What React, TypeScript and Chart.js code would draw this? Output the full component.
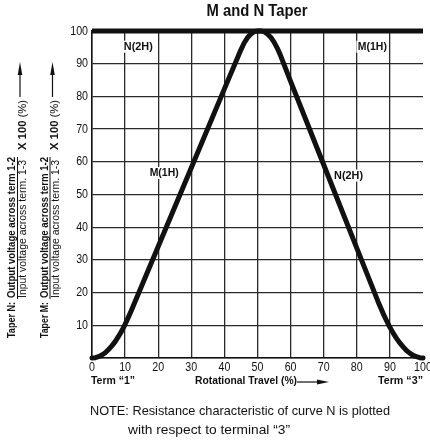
import React, { useEffect, useRef } from "react";
import { Chart, registerables } from "chart.js";

Chart.register(...registerables);

// Rotational travel (%) and output (%) for the M curve (1H rise / 2H fall)
const travelM = [0, 1, 2, 3, 4, 5, 6, 7, 8, 9, 10, 11, 11.7, 20, 30, 40, 44.7, 46, 47, 48, 49, 50, 51, 52, 53, 54, 55, 56, 57, 60, 70, 80, 86.4, 88, 89, 90, 91, 92, 93, 94, 95, 96, 97, 98, 99, 100];
const outputM = [0, 0.1, 0.4, 0.9, 1.6, 2.6, 3.7, 5.0, 6.6, 8.3, 10.3, 12.5, 14.1, 34.1, 58.2, 82.3, 93.6, 96.4, 98.0, 99.1, 99.8, 100, 100, 99.8, 99.1, 98.1, 96.6, 94.7, 92.4, 84.6, 59.1, 33.6, 17.3, 13.5, 11.4, 9.4, 7.6, 6.0, 4.6, 3.4, 2.3, 1.5, 0.8, 0.4, 0.1, 0];
// The flat curve at 100 %
const travelTop = [0, 100];
const outputTop = [100, 100];

const xTicks = [0, 10, 20, 30, 40, 50, 60, 70, 80, 90, 100];
const yTicks = [10, 20, 30, 40, 50, 60, 70, 80, 90, 100];

const curveLabels = ["N(2H)", "M(1H)", "M(1H)", "N(2H)"];
const curveLabelX = [14, 84.7, 21.8, 77.5];
const curveLabelY = [95.2, 95.2, 56.6, 55.8];

const FONT = '"Liberation Sans", Arial, Helvetica, sans-serif';

// draw text compressed horizontally (condensed look)
function txt(ctx: any, text: string, x: number, y: number, font: string, align: "left" | "center" | "right", sx: number, rotate = false) {
  ctx.save();
  ctx.translate(x, y);
  if (rotate) ctx.rotate(-Math.PI / 2);
  ctx.scale(sx, 1);
  ctx.font = font;
  ctx.textAlign = align;
  ctx.textBaseline = "middle";
  ctx.fillText(text, 0, 0);
  ctx.restore();
}
function fitScale(ctx: any, text: string, font: string, target: number) {
  ctx.save();
  ctx.font = font;
  const w = ctx.measureText(text).width;
  ctx.restore();
  return target / w;
}

const annotations = {
  id: "annot",
  beforeDatasetsDraw(chart: any) {
    const ctx = chart.ctx;
    const xs = chart.scales.x;
    const ys = chart.scales.y;
    ctx.save();
    ctx.fillStyle = "#111";
    // tick labels
    const tf = `13px ${FONT}`;
    xTicks.forEach((v) => txt(ctx, String(v), xs.getPixelForValue(v), 367, tf, "center", 0.82));
    yTicks.forEach((v) => txt(ctx, String(v), 88, ys.getPixelForValue(v), tf, "right", 0.82));
    // curve labels
    const lf = `bold 11px ${FONT}`;
    curveLabels.forEach((t, i) => {
      const px = xs.getPixelForValue(curveLabelX[i]);
      const py = ys.getPixelForValue(curveLabelY[i]);
      const s = fitScale(ctx, t, lf, 29);
      ctx.fillStyle = "#fff";
      ctx.fillRect(px - 16, py - 6, 32, 12);
      ctx.fillStyle = "#111";
      txt(ctx, t, px, py, lf, "center", s);
    });
    ctx.restore();
  },
  afterDraw(chart: any) {
    const ctx = chart.ctx;
    ctx.save();
    ctx.fillStyle = "#111";
    ctx.strokeStyle = "#111";
    // title
    const tFont = `bold 16px ${FONT}`;
    txt(ctx, "M and N Taper", 257, 12, tFont, "center", fitScale(ctx, "M and N Taper", tFont, 101));

    // bottom texts
    const bf = `bold 11.5px ${FONT}`;
    txt(ctx, "Term \u201C1\u201D", 91, 381, bf, "left", fitScale(ctx, "Term \u201C1\u201D", bf, 44));
    txt(ctx, "Rotational Travel (%)", 195, 381, bf, "left", fitScale(ctx, "Rotational Travel (%)", bf, 102));
    txt(ctx, "Term \u201C3\u201D", 423, 381, bf, "right", fitScale(ctx, "Term \u201C3\u201D", bf, 45));
    ctx.lineWidth = 1.2;
    ctx.beginPath();
    ctx.moveTo(297, 382);
    ctx.lineTo(320, 382);
    ctx.stroke();
    ctx.beginPath();
    ctx.moveTo(329, 382);
    ctx.lineTo(317, 379.5);
    ctx.lineTo(317, 384.5);
    ctx.closePath();
    ctx.fill();

    const nf = `13px ${FONT}`;
    const n1 = "NOTE: Resistance characteristic of curve N is plotted";
    const n2 = "with respect to terminal \u201C3\u201D";
    txt(ctx, n1, 90, 411, nf, "left", fitScale(ctx, n1, nf, 300));
    txt(ctx, n2, 128, 430, nf, "left", fitScale(ctx, n2, nf, 162));

    // rotated left annotations
    const col = (dx: number, name: string) => {
      const af = `bold 11.5px ${FONT}`;
      const rf = `11.5px ${FONT}`;
      const num = "Output voltage across term 1-2";
      const den = "Input voltage across term. 1-3";
      txt(ctx, name, 12 + dx, 338, af, "left", fitScale(ctx, name, af, 36), true);
      txt(ctx, num, 12 + dx, 298, af, "left", fitScale(ctx, num, af, 141), true);
      txt(ctx, den, 23 + dx, 298, rf, "left", fitScale(ctx, den, rf, 138), true);
      ctx.lineWidth = 1;
      ctx.beginPath();
      ctx.moveTo(17.5 + dx, 299);
      ctx.lineTo(17.5 + dx, 157);
      ctx.stroke();
      const s = fitScale(ctx, "X 100 (%)", af, 50);
      txt(ctx, "X 100", 22.5 + dx, 150, af, "left", s, true);
      ctx.save();
      ctx.font = af;
      const w = ctx.measureText("X 100 ").width * s;
      ctx.restore();
      txt(ctx, "(%)", 22.5 + dx, 150 - w, rf, "left", s, true);
      ctx.lineWidth = 1.2;
      ctx.beginPath();
      ctx.moveTo(20 + dx, 97);
      ctx.lineTo(20 + dx, 72);
      ctx.stroke();
      ctx.beginPath();
      ctx.moveTo(20 + dx, 62);
      ctx.lineTo(17.7 + dx, 75);
      ctx.lineTo(22.3 + dx, 75);
      ctx.closePath();
      ctx.fill();
    };
    col(0, "Taper N:");
    col(32.5, "Taper M:");
    ctx.restore();
  },
};

export default function App() {
  const ref = useRef<HTMLCanvasElement>(null);
  useEffect(() => {
    if (!ref.current) return;
    const chart = new Chart(ref.current, {
      type: "line",
      data: {
        datasets: [
          {
            data: travelM.map((x, i) => ({ x, y: outputM[i] })),
            borderColor: "#111",
            borderWidth: 5,
            pointRadius: 0,
            tension: 0,
            borderCapStyle: "round",
            borderJoinStyle: "round",
            clip: false as any,
          },
          {
            data: travelTop.map((x, i) => ({ x, y: outputTop[i] })),
            borderColor: "#111",
            borderWidth: 5,
            pointRadius: 0,
            clip: false as any,
          },
        ],
      },
      plugins: [annotations],
      options: {
        responsive: false,
        animation: false,
        events: [],
        layout: { padding: { left: 0, right: 7, top: 31, bottom: 0 } },
        plugins: { legend: { display: false }, tooltip: { enabled: false }, title: { display: false } },
        scales: {
          x: {
            type: "linear",
            min: 0,
            max: 100,
            afterFit: (s: any) => { s.height = 88; },
            afterBuildTicks: (s: any) => { s.ticks = xTicks.map((v) => ({ value: v })); },
            ticks: { display: false },
            grid: {
              drawTicks: false,
              color: (c: any) => (c.tick && c.tick.value === 100 ? "rgba(0,0,0,0)" : "#2a2a2a"),
              lineWidth: 1.3,
            },
            border: { display: true, color: "#111", width: 1.5 },
          },
          y: {
            type: "linear",
            min: 0,
            max: 100,
            afterFit: (s: any) => { s.width = 92; },
            afterBuildTicks: (s: any) => { s.ticks = [0, ...yTicks].map((v) => ({ value: v })); },
            ticks: { display: false },
            grid: { drawTicks: false, color: "#2a2a2a", lineWidth: 1.3 },
            border: { display: true, color: "#111", width: 1.5 },
          },
        },
      },
    });
    return () => chart.destroy();
  }, []);
  return (
    <div style={{ position: "fixed", left: 0, top: 0, width: 430, height: 446, background: "#fff" }}>
      <canvas ref={ref} width={430} height={446} style={{ width: 430, height: 446, display: "block" }} />
    </div>
  );
}
